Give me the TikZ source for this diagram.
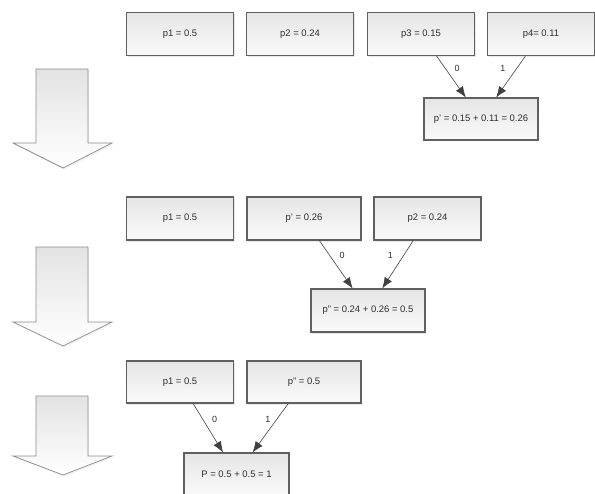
\documentclass[tikz,border=0pt]{standalone}
\usepackage{fontspec}
\setmainfont{Liberation Sans}
\usetikzlibrary{arrows.meta,shadows}
\definecolor{boxline}{HTML}{606060}
\definecolor{boxtxt}{HTML}{2E2E2E}
\definecolor{bigline}{HTML}{8C8C8C}
\tikzset{
  probbox/.style={draw=boxline, line width=1.1bp, top color=black!10, bottom color=black!2,
    minimum height=43bp, inner sep=0pt, text=boxtxt,
    font=\fontsize{9.5}{11}\selectfont,
    drop shadow={opacity=0.18, shadow xshift=1.2bp, shadow yshift=-1.5bp}},
  narrowbox/.style={probbox, minimum width=107bp},
  widebox/.style={probbox, minimum width=114bp},
  merge/.style={draw=black!75, line width=0.6bp, -{Latex[length=11bp,width=8.5bp]}},
  bit/.style={text=boxtxt, inner sep=0pt, font=\fontsize{9}{10}\selectfont},
  bigarrow/.style={draw=bigline, line width=0.7bp, top color=black!11, bottom color=white,
    drop shadow={opacity=0.12, shadow xshift=1bp, shadow yshift=-1.5bp}}
}
\begin{document}
\begin{tikzpicture}[x=1bp, y=-1bp]
\useasboundingbox (0,0) rectangle (595,494);

% step 1: merge p3 and p4
\node[narrowbox] (a1) at (180,34) {p1 = 0.5};
\node[narrowbox] (a2) at (300,34) {p2 = 0.24};
\node[narrowbox] (a3) at (421,34) {p3 = 0.15};
\node[narrowbox] (a4) at (541,34) {p4= 0.11};
\node[widebox, minimum height=42bp] (ap) at (481,119) {p' = 0.15 + 0.11 = 0.26};
\draw[merge] (a3) -- node[bit, pos=0.29, xshift=12bp] {0} (ap);
\draw[merge] (a4) -- node[bit, pos=0.29, xshift=-14bp] {1} (ap);

% step 2: merge p' and p2
\node[narrowbox] (b1) at (180,218.5) {p1 = 0.5};
\node[widebox] (bp) at (304,218.5) {p' = 0.26};
\node[narrowbox] (b2) at (427.5,218.5) {p2 = 0.24};
\node[widebox] (bpp) at (368,310.5) {p'' = 0.24 + 0.26 = 0.5};
\draw[merge] (bp) -- node[bit, pos=0.32, xshift=12bp] {0} (bpp);
\draw[merge] (b2) -- node[bit, pos=0.32, xshift=-13bp] {1} (bpp);

% step 3: merge p1 and p''
\node[narrowbox, minimum height=42bp] (c1) at (180,382) {p1 = 0.5};
\node[widebox, minimum height=42bp] (cpp) at (304,382) {p'' = 0.5};
\node[probbox, minimum width=105bp] (cP) at (236.5,474.5) {P = 0.5 + 0.5 = 1};
\draw[merge] (c1) -- node[bit, pos=0.32, xshift=12bp] {0} (cP);
\draw[merge] (cpp) -- node[bit, pos=0.32, xshift=-9bp] {1} (cP);

% big arrows between steps
\path[bigarrow] (36,69) -- (88,69) -- (88,143) -- (112,143) -- (63,168) -- (13,143) -- (36,143) -- cycle;
\path[bigarrow] (36,247) -- (88,247) -- (88,322) -- (112,322) -- (63,346) -- (13,322) -- (36,322) -- cycle;
\path[bigarrow] (36,396) -- (88,396) -- (88,456) -- (112,456) -- (63,475) -- (13,456) -- (36,456) -- cycle;
\end{tikzpicture}
\end{document}
